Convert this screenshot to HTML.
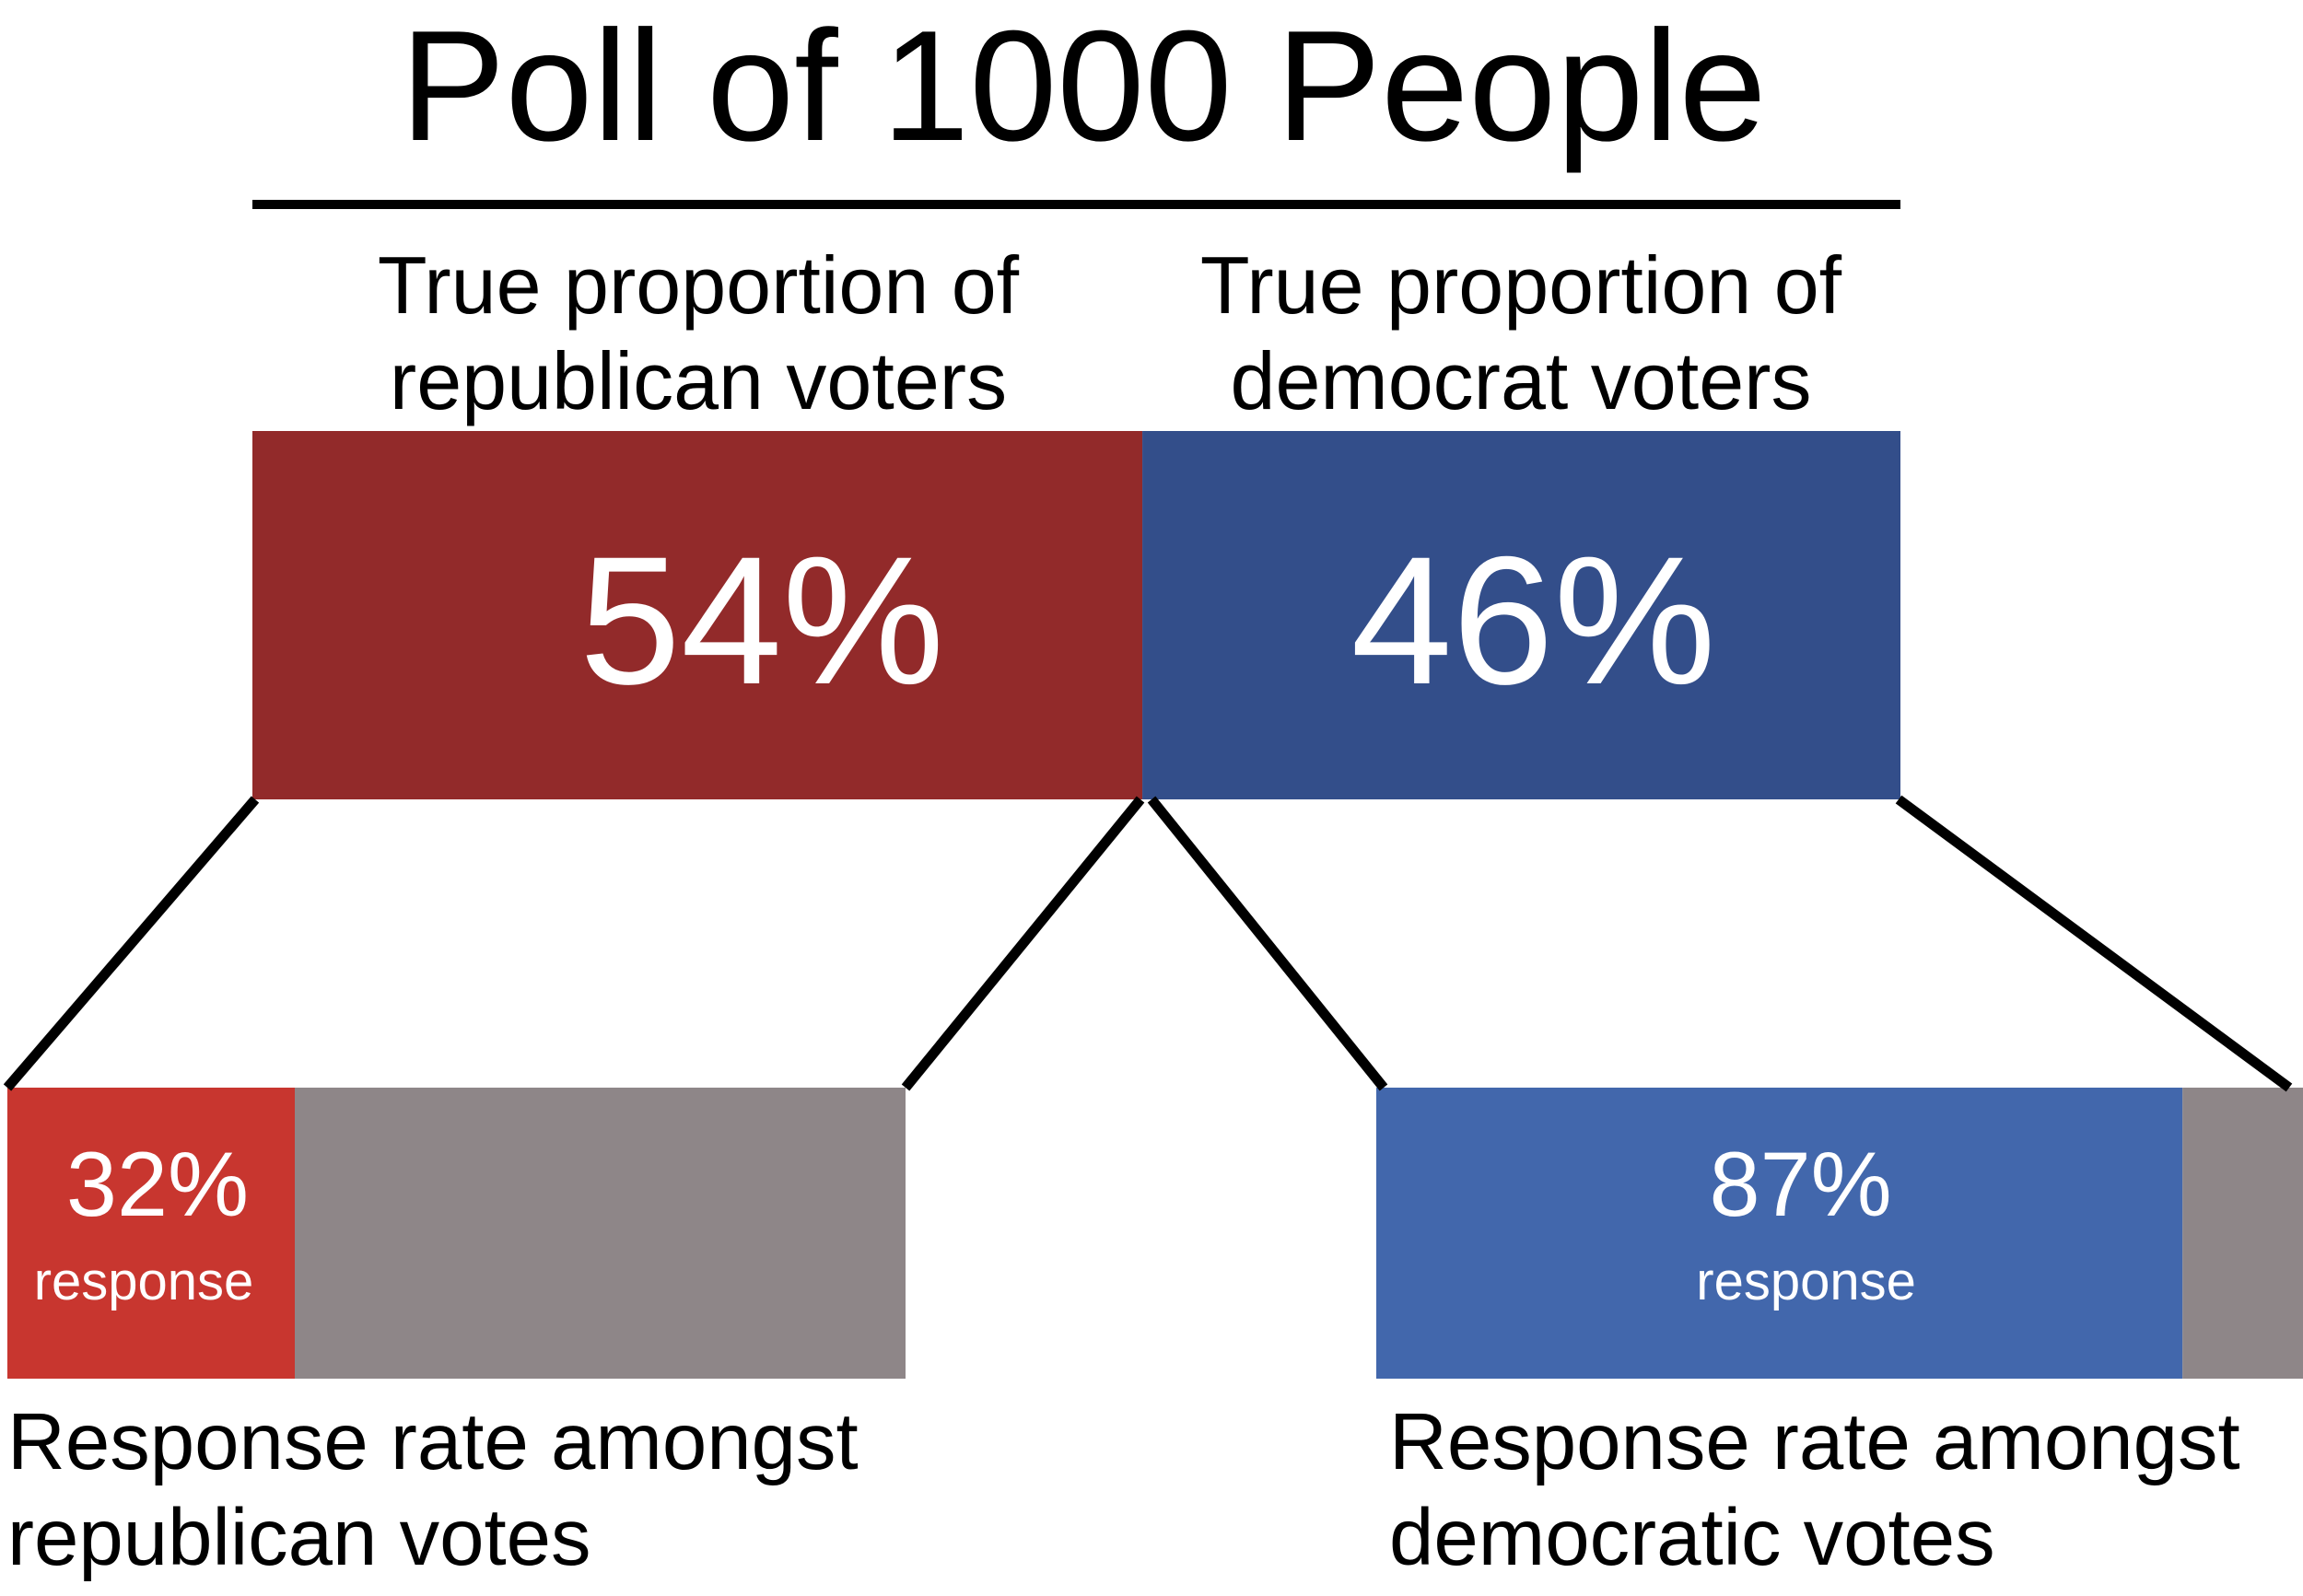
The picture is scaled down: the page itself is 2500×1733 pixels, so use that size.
<!DOCTYPE html>
<html><head><meta charset="utf-8"><style>
html,body{margin:0;padding:0;background:#fff;}
svg text{font-family:"Liberation Sans",Arial,sans-serif;}
</style></head><body>
<svg id="chart" width="2500" height="1728" viewBox="0 0 2500 1728" xmlns="http://www.w3.org/2000/svg">
<text x="1176" y="152" font-size="171" text-anchor="middle" fill="#000">Poll of 1000 People</text>
<rect x="274" y="217" width="1789" height="10" fill="#000"/>
<g id="marks"></g>
</svg>
<script>
const parties = ["republican", "democrat"];
const trueShares = [54, 46];
const responseRates = [32, 87];
const topLabels = [["True proportion of","republican voters"],["True proportion of","democrat voters"]];
const bottomLabels = [["Response rate amongst","republican votes"],["Response rate amongst","democratic votes"]];

const NS="http://www.w3.org/2000/svg";
const g=document.getElementById('marks');
function el(tag,attrs,text){const e=document.createElementNS(NS,tag);for(const k in attrs)e.setAttribute(k,attrs[k]);if(text!==undefined)e.textContent=text;g.appendChild(e);return e;}

const topX0=274, topX1=2063, topY=468, topH=400;
const total=trueShares.reduce((a,b)=>a+b,0);
const xTop=v=>topX0+(v/total)*(topX1-topX0);
const topColors=["#922a2a","#334e8a"];
const botColors=["#c8362f","#4267ac"];
const botRanges=[[8,983],[1494,2500]];
const valOffset=[70,13];
const pctOffset=[7,23];
const respOffset=[-8,29];
const botLabelX=[8,1508];
const botY=1181, botH=316;
let cum=0;
parties.forEach((p,i)=>{
  const x0=xTop(cum), x1=xTop(cum+trueShares[i]); cum+=trueShares[i];
  let r=el('rect',{x:x0,y:topY,width:x1-x0,height:topH,fill:topColors[i]});
  
  
  let t=el('text',{x:(x0+x1)/2+valOffset[i],y:742,'font-size':198,'text-anchor':'middle',fill:'#fff'},trueShares[i]+'%');
  
  
  const cx=i===0?758:1651;
  topLabels[i].forEach((s,j)=>{
    let tl=el('text',{x:cx,y:340+j*104,'font-size':88,'text-anchor':'middle',fill:'#000'},s);
    
    
  });
  const [b0,b1]=botRanges[i];
  const bx=b0+(responseRates[i]/100)*(b1-b0);
  let rr=el('rect',{x:b0,y:botY,width:bx-b0,height:botH,fill:botColors[i]});
  
  
  let rg=el('rect',{x:bx,y:botY,width:b1-bx,height:botH,fill:'#8e8688'});
  
  
  const tcx=(b0+bx)/2;
  let rt=el('text',{x:tcx+pctOffset[i],y:1320,'font-size':99,'text-anchor':'middle',fill:'#fff'},responseRates[i]+'%');
  
  
  let rs=el('text',{x:tcx+respOffset[i],y:1411,'font-size':58,'text-anchor':'middle',fill:'#fff'},'response');
  
  
  bottomLabels[i].forEach((s,j)=>{
    let bl=el('text',{x:botLabelX[i],y:1595+j*104,'font-size':87,fill:'#000'},s);
    
    
  });
  const lines=[[x0+3,topY+topH,b0,botY],[x1-2,topY+topH,b1-(i===0?0:15),botY]];
  if(i===1){lines[0]=[x0+10,topY+topH,b0+8,botY];}
  lines.forEach(l=>{
    let ln=el('line',{x1:l[0],y1:l[1],x2:l[2],y2:l[3],stroke:'#000','stroke-width':11});
    
    
  });
});
</script>
</body></html>
